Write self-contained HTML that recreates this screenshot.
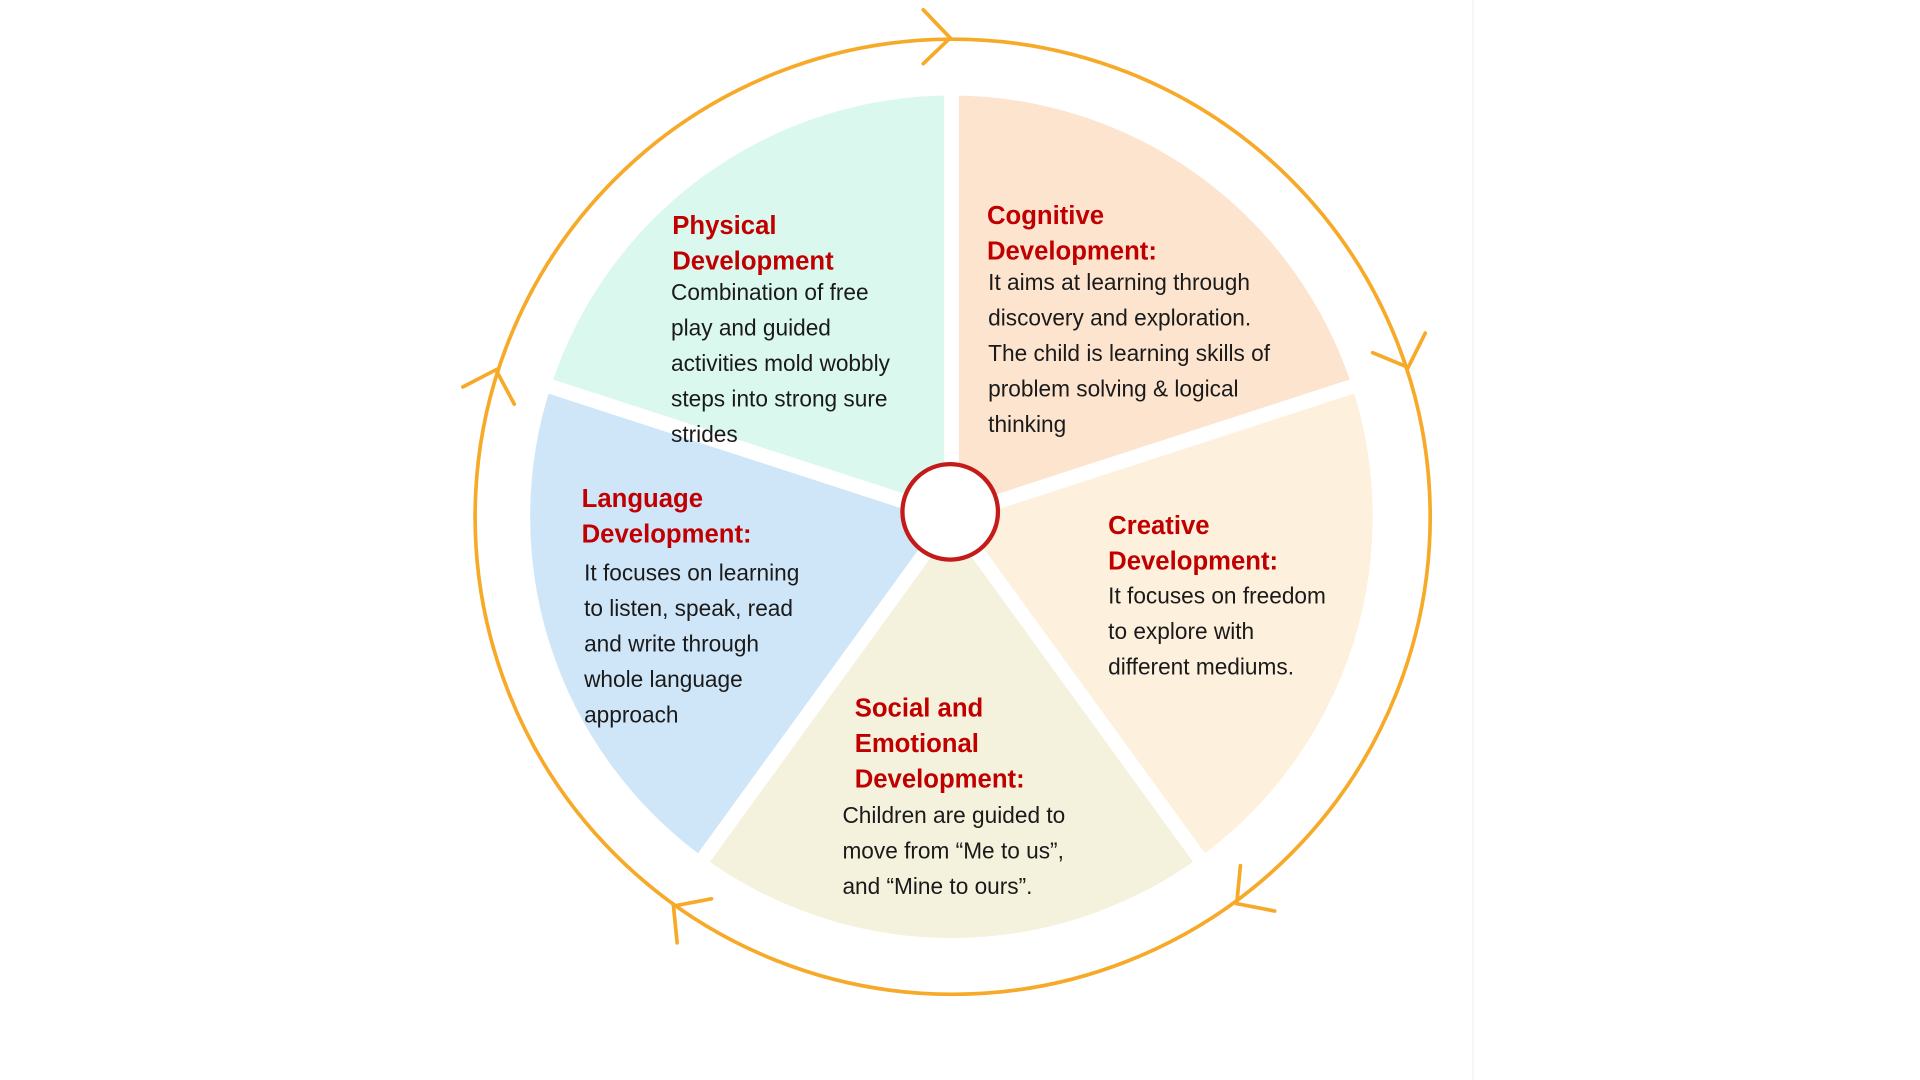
<!DOCTYPE html>
<html><head><meta charset="utf-8"><style>
html,body{margin:0;padding:0;background:#fff;}
svg{display:block;}
text{font-family:"Liberation Sans",sans-serif;}
.h{font-weight:bold;fill:#c00000;font-size:21px;}
.b{fill:#1a1a1a;font-size:18.5px;}
</style></head><body>
<svg width="1920" height="1080" viewBox="0 0 1568 882" xmlns="http://www.w3.org/2000/svg">
<rect width="1568" height="882" fill="#fff"/>
<line x1="1203" y1="0" x2="1203" y2="882" stroke="#f0f0f0" stroke-width="1"/>
<g stroke="#fff" stroke-width="12" stroke-linejoin="round">
<path d="M777,422 L777,72 A350,350 0 0 1 1109.9,313.8 Z" fill="#fde4cf"/>
<path d="M777,422 L1109.9,313.8 A350,350 0 0 1 982.7,705.2 Z" fill="#fdf0dd"/>
<path d="M777,422 L982.7,705.2 A350,350 0 0 1 571.3,705.2 Z" fill="#f4f1dc"/>
<path d="M777,422 L571.3,705.2 A350,350 0 0 1 444.1,313.8 Z" fill="#cfe6f8"/>
<path d="M777,422 L444.1,313.8 A350,350 0 0 1 777,72 Z" fill="#dbf8ef"/>
</g>
<circle cx="776" cy="418" r="39" fill="#fff" stroke="#c41a1a" stroke-width="3.5"/>
<g fill="none" stroke="#f7a928" stroke-width="3" stroke-linecap="round">
<circle cx="778" cy="422" r="390"/>
<polyline points="754,8 776,31 754,52"/>
<polyline points="1121,288 1150,300 1164,272"/>
<polyline points="1013,707 1010,738 1041,744"/>
<polyline points="581,734 550,740 553,770"/>
<polyline points="378,316 405,302 420,330"/>
</g>
<text class="h"><tspan x="549" y="191">Physical</tspan><tspan x="549" y="220">Development</tspan></text>
<text class="b"><tspan x="548" y="245">Combination of free</tspan><tspan x="548" y="274">play and guided</tspan><tspan x="548" y="303">activities mold wobbly</tspan><tspan x="548" y="332">steps into strong sure</tspan><tspan x="548" y="361">strides</tspan></text>
<text class="h"><tspan x="806" y="183">Cognitive</tspan><tspan x="806" y="212">Development:</tspan></text>
<text class="b"><tspan x="807" y="237">It aims at learning through</tspan><tspan x="807" y="266">discovery and exploration.</tspan><tspan x="807" y="295">The child is learning skills of</tspan><tspan x="807" y="324">problem solving &amp;  logical</tspan><tspan x="807" y="353">thinking</tspan></text>
<text class="h"><tspan x="475" y="414">Language</tspan><tspan x="475" y="443">Development:</tspan></text>
<text class="b"><tspan x="477" y="474">It focuses on learning</tspan><tspan x="477" y="503">to listen, speak, read</tspan><tspan x="477" y="532">and write through</tspan><tspan x="477" y="561">whole language</tspan><tspan x="477" y="590">approach</tspan></text>
<text class="h"><tspan x="905" y="436">Creative</tspan><tspan x="905" y="465">Development:</tspan></text>
<text class="b"><tspan x="905" y="493">It focuses on freedom</tspan><tspan x="905" y="522">to explore with</tspan><tspan x="905" y="551">different mediums.</tspan></text>
<text class="h"><tspan x="698" y="585">Social and</tspan><tspan x="698" y="614">Emotional</tspan><tspan x="698" y="643">Development:</tspan></text>
<text class="b"><tspan x="688" y="672">Children are guided to</tspan><tspan x="688" y="701">move from “Me to us”,</tspan><tspan x="688" y="730">and “Mine to ours”.</tspan></text>
</svg>
</body></html>
